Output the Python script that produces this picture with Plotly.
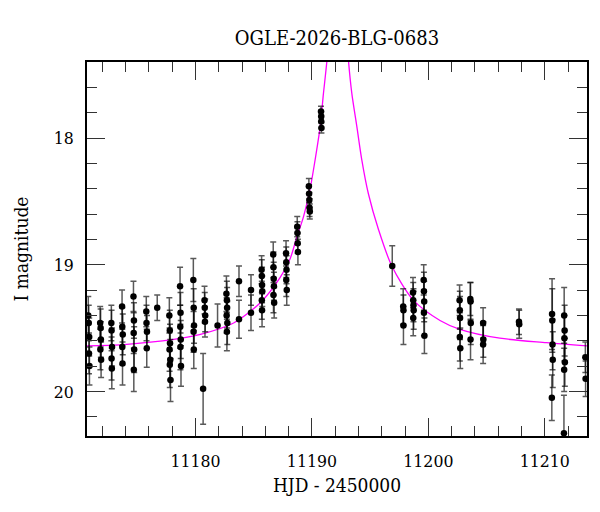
import plotly.graph_objects as go

title_text = "OGLE-2026-BLG-0683"

# observed points: HJD - 2450000, I magnitude, error
hjd = [
    11170.80, 11170.84, 11170.88, 11170.86, 11170.90,
    11171.82, 11171.86, 11171.88, 11171.84, 11171.90,
    11172.78, 11172.80, 11172.84, 11172.80, 11172.82,
    11173.70, 11173.72, 11173.76, 11173.72, 11173.74,
    11174.68, 11174.72, 11174.70, 11174.74, 11174.71,
    11175.78, 11175.80, 11175.84, 11175.82,
    11176.72,
    11177.76, 11177.80, 11177.82, 11177.78, 11177.84, 11177.80, 11177.86,
    11178.68, 11178.72, 11178.70, 11178.74, 11178.71, 11178.76,
    11179.82, 11179.85, 11179.88, 11179.84, 11179.86,
    11180.66,
    11180.78, 11180.80, 11180.84, 11180.82,
    11181.90,
    11182.66, 11182.70, 11182.72, 11182.68, 11182.74, 11182.70,
    11183.74, 11183.74,
    11184.77, 11184.77,
    11185.68, 11185.70, 11185.72, 11185.74, 11185.70, 11185.72,
    11186.68, 11186.70, 11186.72, 11186.74, 11186.70, 11186.76,
    11187.78, 11187.80, 11187.82, 11187.80, 11187.84,
    11188.74, 11188.76, 11188.78, 11188.80,
    11189.74, 11189.76, 11189.78, 11189.80, 11189.82,
    11190.78, 11190.80, 11190.80, 11190.82,
    11196.90,
    11197.84, 11197.86, 11197.86,
    11198.68, 11198.70, 11198.72, 11198.74, 11198.70,
    11199.60, 11199.62, 11199.64, 11199.62, 11199.66,
    11202.68, 11202.70, 11202.72, 11202.70, 11202.74,
    11203.60, 11203.62, 11203.64, 11203.62,
    11204.70, 11204.72, 11204.70,
    11207.78, 11207.80,
    11210.62, 11210.64, 11210.66, 11210.68, 11210.60,
    11211.66, 11211.70, 11211.68, 11211.72, 11211.66, 11211.64,
    11213.48, 11213.50,
]
mag = [
    19.40, 19.46, 19.57, 19.70, 19.80,
    19.46, 19.50, 19.59, 19.67, 19.75,
    19.46, 19.52, 19.65, 19.74, 19.82,
    19.33, 19.49, 19.55, 19.65, 19.78,
    19.25, 19.44, 19.54, 19.67, 19.83,
    19.37, 19.46, 19.53, 19.66,
    19.34,
    19.40, 19.52, 19.62, 19.67, 19.75, 19.79, 19.91,
    19.17, 19.38, 19.49, 19.59, 19.65, 19.80,
    19.12, 19.34, 19.48, 19.53, 19.67,
    19.98,
    19.28, 19.34, 19.40, 19.45,
    19.48,
    19.23, 19.28, 19.34, 19.40, 19.46, 19.53,
    19.13, 19.43,
    19.20, 19.38,
    19.04, 19.09, 19.16, 19.21, 19.28, 19.36,
    18.92, 19.02, 19.11, 19.17, 19.24, 19.30,
    18.91, 18.98, 19.04, 19.12, 19.20,
    18.70, 18.75, 18.83, 18.90,
    18.38, 18.44, 18.49, 18.55, 18.58,
    17.79, 17.83, 17.87, 17.92,
    19.01,
    19.33, 19.36, 19.48,
    19.22, 19.28, 19.32, 19.36, 19.42,
    19.12, 19.21, 19.29, 19.38, 19.56,
    19.28, 19.36, 19.42, 19.57, 19.66,
    19.27, 19.29, 19.46, 19.59,
    19.46, 19.59, 19.63,
    19.45, 19.47,
    19.39, 19.44, 19.63, 19.75, 20.05,
    19.40, 19.52, 19.58, 19.77, 19.83, 20.33,
    19.73, 19.90,
]
err = [
    0.15, 0.14, 0.15, 0.16, 0.15,
    0.13, 0.15, 0.14, 0.16, 0.14,
    0.14, 0.16, 0.15, 0.17, 0.16,
    0.13, 0.15, 0.16, 0.14, 0.17,
    0.12, 0.14, 0.16, 0.18, 0.17,
    0.12, 0.14, 0.13, 0.15,
    0.10,
    0.14, 0.16, 0.15, 0.17, 0.16, 0.18, 0.17,
    0.15, 0.16, 0.17, 0.15, 0.18, 0.16,
    0.17, 0.15, 0.14, 0.16, 0.15,
    0.28,
    0.11, 0.12, 0.13, 0.12,
    0.17,
    0.14, 0.15, 0.16, 0.14, 0.17, 0.15,
    0.12, 0.15,
    0.12, 0.14,
    0.11, 0.13, 0.14, 0.12, 0.15, 0.13,
    0.10, 0.12, 0.13, 0.11, 0.14, 0.12,
    0.10, 0.12, 0.11, 0.13, 0.12,
    0.08, 0.09, 0.08, 0.10,
    0.06, 0.07, 0.06, 0.07, 0.06,
    0.04, 0.04, 0.05, 0.04,
    0.16,
    0.14, 0.12, 0.15,
    0.12, 0.14, 0.13, 0.15, 0.14,
    0.12, 0.15, 0.16, 0.18, 0.14,
    0.12, 0.15, 0.17, 0.19, 0.16,
    0.13, 0.15, 0.17, 0.16,
    0.12, 0.14, 0.15,
    0.10, 0.11,
    0.28, 0.25, 0.20, 0.22, 0.18,
    0.22, 0.20, 0.18, 0.19, 0.17, 0.30,
    0.12, 0.14,
]

# model curve
model_hjd = [11170.69, 11173.86, 11178.14, 11180.43, 11183.28, 11185.57, 11187.28,
             11188.14, 11188.71, 11189.28, 11189.85, 11190.28, 11190.71, 11190.99,
             11191.28, 11191.65, 11192.25, 11192.85, 11193.15, 11193.43, 11193.86,
             11194.28, 11194.85, 11195.71, 11196.86, 11198.71, 11201.00, 11202.71,
             11206.14, 11210.14, 11213.62]
model_mag = [19.64, 19.63, 19.59, 19.55, 19.46, 19.30, 19.10,
             18.95, 18.78, 18.62, 18.40, 18.17, 17.91, 17.65,
             17.40, 17.00, 16.60, 17.00, 17.40, 17.65, 17.91,
             18.17, 18.44, 18.72, 19.01, 19.28, 19.44, 19.51,
             19.58, 19.615, 19.64]

fnt = "DejaVu Serif Condensed, DejaVu Serif"

fig = go.Figure()
fig.add_trace(go.Scatter(x=model_hjd, y=model_mag, mode="lines",
                         line=dict(color="#ff00ff", width=1.3, shape="spline", smoothing=0.8),
                         hoverinfo="skip"))
fig.add_trace(go.Scatter(x=hjd, y=mag, mode="markers",
                         marker=dict(color="black", size=6.5),
                         error_y=dict(type="data", array=err, color="rgba(0,0,0,0.65)",
                                      thickness=1.5, width=3)))

# the page body adds an 8px offset, so margins are shifted to compensate
fig.update_layout(
    width=600, height=512,
    margin=dict(l=79, r=21, t=54, b=84, autoexpand=False),
    paper_bgcolor="white", plot_bgcolor="white",
    showlegend=False,
    font=dict(family=fnt, size=17, color="black"),
    title=dict(text=title_text, x=0.5, xref="paper", y=1 - 30 / 512, yref="container",
               yanchor="middle", xanchor="center", font=dict(family=fnt, size=20)),
)
fig.update_xaxes(
    range=[11170.69, 11213.62], tick0=11170, dtick=10, tickformat="d",
    ticks="inside", ticklen=18, tickcolor="#333", tickwidth=1,
    minor=dict(dtick=2, ticks="inside", ticklen=10, tickcolor="#333", tickwidth=1),
    showline=True, linecolor="black", linewidth=1.5, mirror="ticks",
    showgrid=False, zeroline=False, ticklabelstandoff=8, automargin=False,
    tickfont=dict(size=17.5),
    title=dict(text="HJD - 2450000", standoff=9, font=dict(size=19)),
)
fig.update_yaxes(
    range=[20.352, 17.40], dtick=1, tick0=18,
    ticks="inside", ticklen=18, tickcolor="#333", tickwidth=1,
    minor=dict(dtick=0.2, ticks="inside", ticklen=10, tickcolor="#333", tickwidth=1),
    showline=True, linecolor="black", linewidth=1.5, mirror="ticks",
    showgrid=False, zeroline=False, ticklabelstandoff=8, automargin=False,
    tickfont=dict(size=17.5),
    title=dict(text="I magnitude", standoff=20, font=dict(size=19)),
)

fig.write_html("out.html")
